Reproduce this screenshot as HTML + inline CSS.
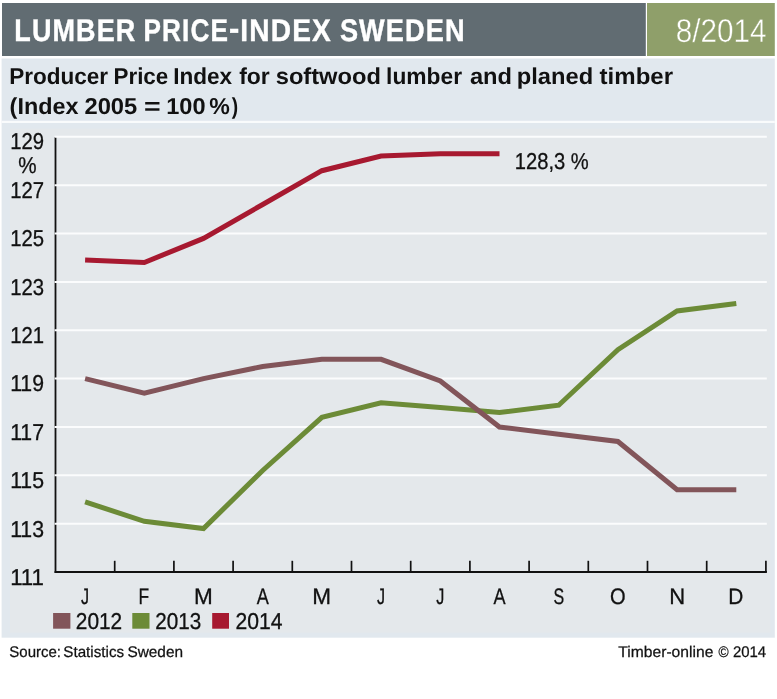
<!DOCTYPE html>
<html><head><meta charset="utf-8"><title>Lumber Price-Index Sweden</title>
<style>
html,body{margin:0;padding:0;background:#fff;}
svg{display:block;}
text{font-family:"Liberation Sans",sans-serif;fill:#111;text-rendering:geometricPrecision;}
.r{font-size:22.9px;stroke:#111;stroke-width:.3px;}
.l{font-size:22.4px;stroke:#111;stroke-width:.3px;}
.b{font-weight:bold;}
.f{font-size:15.4px;stroke:#111;stroke-width:.25px;}
</style></head><body>
<svg width="777" height="699" viewBox="0 0 777 699">
<rect x="0" y="0" width="777" height="699" fill="#ffffff"/>
<rect x="2" y="3" width="643.8" height="53" fill="#616c72"/>
<rect x="647" y="3" width="127.8" height="53" fill="#8f9f6a"/>
<rect x="1.6" y="58.5" width="773.2" height="579.2" fill="#e1e8ee"/>
<rect x="1.6" y="120.8" width="773.2" height="2.2" fill="#f9fbfc"/>
<rect x="10" y="128.6" width="760.3" height="504.1" fill="#e4e8eb"/>
<text y="41.2" class="b" style="font-size:31.4px;letter-spacing:1.3px;fill:#fff;stroke:#fff;stroke-width:.4px"><tspan x="14.31" textLength="122.12" lengthAdjust="spacingAndGlyphs">LUMBER</tspan> <tspan x="143.56" textLength="85.41" lengthAdjust="spacingAndGlyphs">PRICE</tspan><tspan x="229.04" dy="-2" textLength="11.56" lengthAdjust="spacingAndGlyphs">-</tspan><tspan x="240.34" dy="2" textLength="91.68" lengthAdjust="spacingAndGlyphs">INDEX</tspan> <tspan x="339.88" textLength="125.94" lengthAdjust="spacingAndGlyphs">SWEDEN</tspan></text>
<text x="675.77" y="41.7" style="font-size:33px;fill:#fff;stroke:#8f9f6a;stroke-width:.45px" textLength="90.77" lengthAdjust="spacingAndGlyphs">8/2014</text>
<text y="84.3" class="b" style="font-size:23px"><tspan x="9.19" textLength="98.93" lengthAdjust="spacingAndGlyphs">Producer</tspan> <tspan x="113.50" textLength="54.76" lengthAdjust="spacingAndGlyphs">Price</tspan> <tspan x="173.19" textLength="58.97" lengthAdjust="spacingAndGlyphs">Index</tspan> <tspan x="239.14" textLength="30.58" lengthAdjust="spacingAndGlyphs">for</tspan> <tspan x="275.76" textLength="105.15" lengthAdjust="spacingAndGlyphs">softwood</tspan> <tspan x="386.08" textLength="75.95" lengthAdjust="spacingAndGlyphs">lumber</tspan> <tspan x="469.93" textLength="42.08" lengthAdjust="spacingAndGlyphs">and</tspan> <tspan x="516.72" textLength="76.40" lengthAdjust="spacingAndGlyphs">planed</tspan> <tspan x="599.60" textLength="73.44" lengthAdjust="spacingAndGlyphs">timber</tspan></text>
<text y="114.3" class="b" style="font-size:23px"><tspan x="9.60" textLength="68.95" lengthAdjust="spacingAndGlyphs">(Index</tspan> <tspan x="84.46" textLength="52.83" lengthAdjust="spacingAndGlyphs">2005</tspan> <tspan x="143.91" textLength="16.65" lengthAdjust="spacingAndGlyphs">=</tspan> <tspan x="166.23" textLength="39.33" lengthAdjust="spacingAndGlyphs">100</tspan> <tspan x="209.24" textLength="20.59" lengthAdjust="spacingAndGlyphs">%</tspan><tspan x="231.70" textLength="6.39" lengthAdjust="spacingAndGlyphs">)</tspan></text>
<line x1="55.5" y1="137" x2="55.5" y2="573" stroke="#111" stroke-width="1.8"/>
<line x1="54.6" y1="136.8" x2="766.8" y2="136.8" stroke="#fbfcfd" stroke-width="2"/>
<line x1="54.6" y1="185.2" x2="766.8" y2="185.2" stroke="#fbfcfd" stroke-width="2"/>
<line x1="54.6" y1="233.5" x2="766.8" y2="233.5" stroke="#fbfcfd" stroke-width="2"/>
<line x1="54.6" y1="281.9" x2="766.8" y2="281.9" stroke="#fbfcfd" stroke-width="2"/>
<line x1="54.6" y1="330.2" x2="766.8" y2="330.2" stroke="#fbfcfd" stroke-width="2"/>
<line x1="54.6" y1="378.6" x2="766.8" y2="378.6" stroke="#fbfcfd" stroke-width="2"/>
<line x1="54.6" y1="427.0" x2="766.8" y2="427.0" stroke="#fbfcfd" stroke-width="2"/>
<line x1="54.6" y1="475.3" x2="766.8" y2="475.3" stroke="#fbfcfd" stroke-width="2"/>
<line x1="54.6" y1="523.7" x2="766.8" y2="523.7" stroke="#fbfcfd" stroke-width="2"/>
<line x1="54.6" y1="572" x2="766.9" y2="572" stroke="#111" stroke-width="2.1"/>
<line x1="114.7" y1="560.8" x2="114.7" y2="572" stroke="#111" stroke-width="1.7"/>
<line x1="173.9" y1="560.8" x2="173.9" y2="572" stroke="#111" stroke-width="1.7"/>
<line x1="233.1" y1="560.8" x2="233.1" y2="572" stroke="#111" stroke-width="1.7"/>
<line x1="292.3" y1="560.8" x2="292.3" y2="572" stroke="#111" stroke-width="1.7"/>
<line x1="351.5" y1="560.8" x2="351.5" y2="572" stroke="#111" stroke-width="1.7"/>
<line x1="410.7" y1="560.8" x2="410.7" y2="572" stroke="#111" stroke-width="1.7"/>
<line x1="469.9" y1="560.8" x2="469.9" y2="572" stroke="#111" stroke-width="1.7"/>
<line x1="529.1" y1="560.8" x2="529.1" y2="572" stroke="#111" stroke-width="1.7"/>
<line x1="588.3" y1="560.8" x2="588.3" y2="572" stroke="#111" stroke-width="1.7"/>
<line x1="647.5" y1="560.8" x2="647.5" y2="572" stroke="#111" stroke-width="1.7"/>
<line x1="706.7" y1="560.8" x2="706.7" y2="572" stroke="#111" stroke-width="1.7"/>
<line x1="765.9" y1="560.8" x2="765.9" y2="572" stroke="#111" stroke-width="1.7"/>
<text x="10.13" y="148.8" class="r" textLength="33.89" lengthAdjust="spacingAndGlyphs">129</text>
<text x="10.13" y="198.0" class="r" textLength="33.89" lengthAdjust="spacingAndGlyphs">127</text>
<text x="10.13" y="246.3" class="r" textLength="33.89" lengthAdjust="spacingAndGlyphs">125</text>
<text x="10.13" y="294.7" class="r" textLength="33.89" lengthAdjust="spacingAndGlyphs">123</text>
<text x="10.13" y="343.0" class="r" textLength="33.89" lengthAdjust="spacingAndGlyphs">121</text>
<text x="10.13" y="391.4" class="r" textLength="33.89" lengthAdjust="spacingAndGlyphs">119</text>
<text x="10.13" y="439.8" class="r" textLength="33.89" lengthAdjust="spacingAndGlyphs">117</text>
<text x="10.13" y="488.1" class="r" textLength="33.89" lengthAdjust="spacingAndGlyphs">115</text>
<text x="10.13" y="536.5" class="r" textLength="33.89" lengthAdjust="spacingAndGlyphs">113</text>
<text x="10.13" y="584.8" class="r" textLength="33.89" lengthAdjust="spacingAndGlyphs">111</text>
<text x="18.25" y="172.6" class="r" textLength="18.36" lengthAdjust="spacingAndGlyphs">%</text>
<text x="80.95" y="603.8" class="l" textLength="8.06" lengthAdjust="spacingAndGlyphs">J</text>
<text x="138.59" y="603.8" class="l" textLength="10.63" lengthAdjust="spacingAndGlyphs">F</text>
<text x="193.99" y="603.8" class="l" textLength="18.78" lengthAdjust="spacingAndGlyphs">M</text>
<text x="256.63" y="603.8" class="l" textLength="12.06" lengthAdjust="spacingAndGlyphs">A</text>
<text x="312.39" y="603.8" class="l" textLength="18.78" lengthAdjust="spacingAndGlyphs">M</text>
<text x="376.95" y="603.8" class="l" textLength="8.06" lengthAdjust="spacingAndGlyphs">J</text>
<text x="436.15" y="603.8" class="l" textLength="8.06" lengthAdjust="spacingAndGlyphs">J</text>
<text x="493.43" y="603.8" class="l" textLength="12.06" lengthAdjust="spacingAndGlyphs">A</text>
<text x="553.45" y="603.8" class="l" textLength="10.67" lengthAdjust="spacingAndGlyphs">S</text>
<text x="610.06" y="603.8" class="l" textLength="15.61" lengthAdjust="spacingAndGlyphs">O</text>
<text x="669.18" y="603.8" class="l" textLength="15.92" lengthAdjust="spacingAndGlyphs">N</text>
<text x="728.32" y="603.8" class="l" textLength="15.05" lengthAdjust="spacingAndGlyphs">D</text>
<polyline points="85.1,501.9 144.3,521.3 203.5,528.5 262.7,470.5 321.9,417.3 381.1,402.8 440.3,407.6 499.5,412.5 558.7,405.2 617.9,349.6 677.1,310.9 736.3,303.6" fill="none" stroke="#6c8b37" stroke-width="5" stroke-linejoin="miter"/>
<polyline points="85.1,378.6 144.3,393.1 203.5,378.6 262.7,366.5 321.9,359.3 381.1,359.3 440.3,381.0 499.5,427.0 558.7,434.2 617.9,441.5 677.1,489.8 736.3,489.8" fill="none" stroke="#82555a" stroke-width="5" stroke-linejoin="miter"/>
<polyline points="85.1,260.1 144.3,262.5 203.5,238.4 262.7,204.5 321.9,170.7 381.1,156.1 440.3,153.7 499.5,153.7" fill="none" stroke="#a71930" stroke-width="5" stroke-linejoin="miter"/>
<text x="514.84" y="168.7" class="r" textLength="73.96" lengthAdjust="spacingAndGlyphs">128,3 %</text>
<rect x="53.1" y="613" width="17.3" height="15.7" fill="#82555a"/>
<text x="75.82" y="628.8" class="r" textLength="46.42" lengthAdjust="spacingAndGlyphs">2012</text>
<rect x="132.3" y="613" width="17.2" height="15.7" fill="#6c8b37"/>
<text x="155.33" y="628.8" class="r" textLength="46.01" lengthAdjust="spacingAndGlyphs">2013</text>
<rect x="212.2" y="613" width="16.8" height="15.7" fill="#a71930"/>
<text x="235.61" y="628.8" class="r" textLength="47.02" lengthAdjust="spacingAndGlyphs">2014</text>
<text y="657" class="f"><tspan x="9.33" textLength="51.72" lengthAdjust="spacingAndGlyphs">Source:</tspan> <tspan x="63.33" textLength="60.75" lengthAdjust="spacingAndGlyphs">Statistics</tspan> <tspan x="127.42" textLength="55.65" lengthAdjust="spacingAndGlyphs">Sweden</tspan></text>
<text y="657.2" class="f"><tspan x="618.36" textLength="94.98" lengthAdjust="spacingAndGlyphs">Timber-online</tspan> <tspan x="718.50" textLength="10.13" lengthAdjust="spacingAndGlyphs">©</tspan> <tspan x="732.90" textLength="33.27" lengthAdjust="spacingAndGlyphs">2014</tspan></text>
</svg>
</body></html>
